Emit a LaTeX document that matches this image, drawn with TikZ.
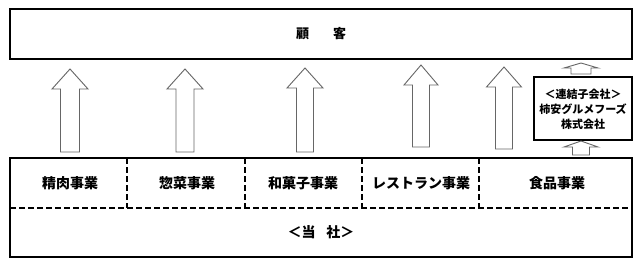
\documentclass[tikz,border=0pt]{standalone}
\usepackage{fontspec}
\setmainfont{Noto Sans CJK JP}
\begin{document}
\begin{tikzpicture}[x=1pt,y=-1pt,
  box/.style={draw=black,line width=1.6pt,rectangle,inner sep=0pt},
  dsh/.style={draw=black,line width=1.4pt,dash pattern=on 6pt off 3pt},
  uparr/.style={draw=black!60,line width=0.9pt,fill=white,line join=miter},
  lbl/.style={font=\bfseries\fontsize{14}{16}\selectfont,inner sep=0pt},
  sublbl/.style={font=\bfseries\fontsize{11}{15}\selectfont,inner sep=0pt,align=center}]
\newcommand\drawuparrow[6]{\draw[uparr] (#1,#2) -- (#1+#5,#3) -- (#1+#6,#3) -- (#1+#6,#4) -- (#1-#6,#4) -- (#1-#6,#3) -- (#1-#5,#3) -- cycle;}
\useasboundingbox[fill=white] (0,0) rectangle (640,265);

% customers
\node[box,minimum width=622pt,minimum height=50pt] (cust) at (321,34) {};
\node[font=\bfseries\fontsize{13}{15}\selectfont,inner sep=0pt] (custlbl) at (321,34) {顧\hspace{24pt}客};

% company box
\node[box,minimum width=622pt,minimum height=99pt] (tosha) at (321,207.5) {};
\coordinate (dl) at (10,208);
\coordinate (dr) at (632,208);
\draw[dsh] (dl) -- (dr);
\foreach \x in {127,245,362,479} {
  \draw[dsh] (\x,158) -- (\x,208);
}
\node[lbl] (s1) at (70,183) {精肉事業};
\node[lbl] (s2) at (187,183) {惣菜事業};
\node[lbl] (s3) at (303,183) {和菓子事業};
\node[lbl] (s4) at (421,183) {レストラン事業};
\node[lbl] (s5) at (557,183) {食品事業};
\node[lbl] (self) at (321,232) {＜当\hspace{11pt}社＞};

% subsidiary
\node[box,minimum width=98pt,minimum height=63pt] (sub) at (583,108.5) {};
\node[sublbl] (sublbl) at (583,109) {＜連結子会社＞\\柿安グルメフーズ\\株式会社};

% arrows
\drawuparrow{70}{69}{89}{152}{18}{9.5}
\drawuparrow{185}{69}{89}{152}{18}{9}
\drawuparrow{305}{68}{88}{152}{18}{8.5}
\drawuparrow{421}{65}{85}{147}{17}{8.5}
\drawuparrow{504}{67}{87}{149}{17.5}{8.5}
\drawuparrow{581}{63}{68}{74}{17}{10}
\drawuparrow{581}{141}{147}{155}{17}{8.5}
\end{tikzpicture}
\end{document}
